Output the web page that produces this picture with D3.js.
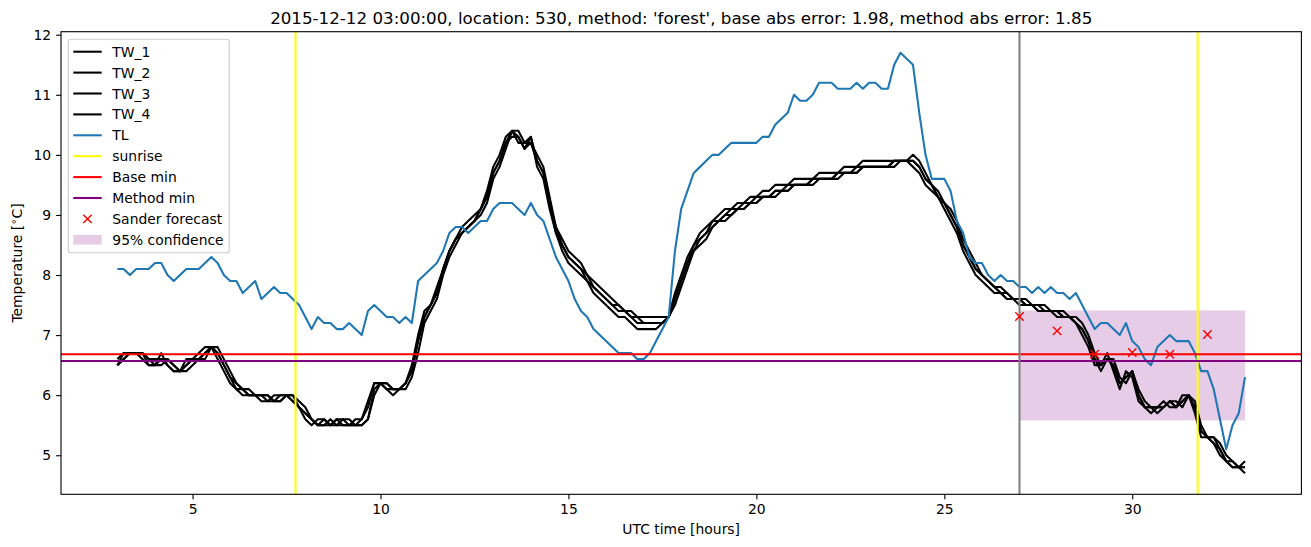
<!DOCTYPE html>
<html><head><meta charset="utf-8">
<script src="https://cdn.jsdelivr.net/npm/d3@7"></script>
<style>body{margin:0;background:#fff} text{font-family:"DejaVu Sans",sans-serif;fill:#000}</style>
</head><body><svg id="c" width="1311" height="547"></svg>
<script>
// time axis: 10-minute samples from 03:00 to 33:00 UTC
const hours = d3.range(181).map(i => 3 + i / 6);

const TL = [
8.1,8.1,8.0,8.1,8.1,8.1,
8.2,8.2,8.0,7.9,8.0,8.1,
8.1,8.1,8.2,8.3,8.2,8.0,
7.9,7.9,7.7,7.8,7.9,7.6,
7.7,7.8,7.7,7.7,7.6,7.5,
7.3,7.1,7.3,7.2,7.2,7.1,
7.1,7.2,7.1,7.0,7.4,7.5,
7.4,7.3,7.3,7.2,7.3,7.2,
7.9,8.0,8.1,8.2,8.4,8.7,
8.8,8.8,8.7,8.8,8.9,8.9,
9.1,9.2,9.2,9.2,9.1,9.0,
9.2,9.0,8.9,8.6,8.3,8.1,
7.9,7.6,7.4,7.3,7.1,7.0,
6.9,6.8,6.7,6.7,6.7,6.6,
6.6,6.7,6.9,7.1,7.3,8.4,
9.1,9.4,9.7,9.8,9.9,10.0,
10.0,10.1,10.2,10.2,10.2,10.2,
10.2,10.3,10.3,10.5,10.6,10.7,
11.0,10.9,10.9,11.0,11.2,11.2,
11.2,11.1,11.1,11.1,11.2,11.1,
11.2,11.2,11.1,11.1,11.5,11.7,
11.6,11.5,10.7,10.0,9.6,9.6,
9.6,9.4,8.9,8.7,8.3,8.2,
8.2,8.0,7.9,8.0,7.9,7.9,
7.8,7.8,7.7,7.8,7.7,7.8,
7.7,7.7,7.6,7.7,7.5,7.3,
7.1,7.2,7.2,7.1,7.0,7.2,
6.9,6.8,6.6,6.5,6.8,6.9,
7.0,6.9,6.9,6.9,6.7,6.4,
6.4,6.1,5.6,5.1,5.5,5.7,
6.3];

const TW_1 = [
6.5,6.7,6.7,6.7,6.7,6.5,
6.5,6.6,6.5,6.4,6.4,6.5,
6.6,6.6,6.7,6.8,6.7,6.5,
6.3,6.1,6.1,6.0,6.0,6.0,
5.9,5.9,6.0,6.0,6.0,5.8,
5.7,5.6,5.5,5.6,5.5,5.6,
5.6,5.5,5.5,5.6,5.8,6.2,
6.2,6.1,6.1,6.1,6.2,6.4,
6.9,7.3,7.5,7.7,8.1,8.4,
8.6,8.7,8.8,8.9,9.1,9.3,
9.7,9.9,10.2,10.4,10.3,10.1,
10.3,9.9,9.7,9.2,8.7,8.5,
8.3,8.2,8.1,7.9,7.8,7.7,
7.6,7.5,7.4,7.4,7.3,7.2,
7.2,7.2,7.2,7.2,7.3,7.6,
7.9,8.2,8.5,8.6,8.7,8.9,
8.9,9.0,9.1,9.1,9.2,9.2,
9.3,9.3,9.3,9.4,9.4,9.5,
9.5,9.5,9.5,9.6,9.6,9.6,
9.6,9.7,9.7,9.7,9.8,9.8,
9.8,9.8,9.8,9.8,9.9,9.9,
9.9,9.9,9.8,9.6,9.5,9.3,
9.2,9.0,8.8,8.5,8.3,8.1,
8.0,7.9,7.8,7.7,7.6,7.6,
7.6,7.5,7.5,7.5,7.4,7.4,
7.4,7.3,7.3,7.2,7.1,6.9,
6.6,6.5,6.6,6.5,6.2,6.3,
6.4,6.0,5.8,5.8,5.8,5.8,
5.9,5.8,5.9,6.0,5.8,5.4,
5.3,5.3,5.1,4.9,4.9,4.8,
4.8];

const TW_2 = [
6.5,6.6,6.7,6.7,6.7,6.6,
6.5,6.5,6.6,6.5,6.4,6.4,
6.5,6.6,6.6,6.8,6.8,6.6,
6.4,6.2,6.1,6.1,6.0,6.0,
6.0,5.9,5.9,6.0,6.0,5.9,
5.8,5.6,5.5,5.5,5.6,5.5,
5.6,5.6,5.5,5.5,5.6,6.0,
6.2,6.2,6.1,6.1,6.1,6.3,
6.7,7.2,7.4,7.6,8.0,8.3,
8.5,8.7,8.8,8.9,9.0,9.2,
9.6,9.8,10.1,10.4,10.4,10.2,
10.2,10.0,9.8,9.3,8.8,8.6,
8.4,8.3,8.2,8.0,7.9,7.8,
7.7,7.6,7.5,7.4,7.4,7.3,
7.3,7.3,7.3,7.3,7.3,7.5,
7.8,8.1,8.4,8.5,8.6,8.8,
8.9,8.9,9.0,9.1,9.1,9.2,
9.2,9.3,9.3,9.3,9.4,9.4,
9.5,9.5,9.5,9.5,9.6,9.6,
9.6,9.6,9.7,9.7,9.7,9.8,
9.8,9.8,9.8,9.8,9.8,9.9,
9.9,10.0,9.9,9.7,9.5,9.4,
9.2,9.1,8.9,8.6,8.4,8.2,
8.0,7.9,7.8,7.8,7.7,7.6,
7.6,7.6,7.5,7.5,7.5,7.4,
7.4,7.4,7.3,7.3,7.2,7.0,
6.7,6.5,6.6,6.6,6.3,6.2,
6.4,6.1,5.9,5.8,5.8,5.8,
5.9,5.9,5.8,6.0,5.9,5.5,
5.3,5.3,5.2,5.0,4.9,4.8,
4.9];

const TW_3 = [
6.6,6.7,6.7,6.7,6.6,6.5,
6.5,6.7,6.5,6.4,6.4,6.6,
6.6,6.7,6.8,6.8,6.6,6.4,
6.2,6.1,6.0,6.0,6.0,5.9,
5.9,6.0,6.0,6.0,5.9,5.8,
5.6,5.5,5.6,5.6,5.5,5.6,
5.5,5.5,5.6,5.6,5.9,6.2,
6.2,6.1,6.0,6.1,6.2,6.5,
7.0,7.4,7.5,7.8,8.1,8.4,
8.6,8.8,8.9,9.0,9.1,9.4,
9.8,10.0,10.3,10.4,10.2,10.2,
10.3,9.8,9.6,9.1,8.7,8.4,
8.2,8.1,8.0,7.9,7.7,7.6,
7.5,7.4,7.3,7.3,7.2,7.1,
7.1,7.1,7.1,7.2,7.3,7.7,
8.0,8.3,8.5,8.7,8.8,8.9,
9.0,9.1,9.1,9.2,9.2,9.3,
9.3,9.4,9.4,9.5,9.5,9.5,
9.6,9.6,9.6,9.6,9.7,9.7,
9.7,9.7,9.8,9.8,9.8,9.9,
9.9,9.9,9.9,9.9,9.9,9.9,
9.9,9.8,9.7,9.5,9.4,9.3,
9.1,8.9,8.7,8.4,8.2,8.0,
7.9,7.8,7.7,7.7,7.6,7.6,
7.5,7.5,7.5,7.4,7.4,7.4,
7.3,7.3,7.3,7.2,7.0,6.8,
6.5,6.5,6.7,6.4,6.1,6.4,
6.3,5.9,5.8,5.7,5.8,5.9,
5.8,5.8,6.0,6.0,5.7,5.3,
5.3,5.2,5.0,4.9,4.8,4.8,
4.7];

const TW_4 = [
6.5,6.6,6.7,6.7,6.7,6.6,
6.6,6.6,6.6,6.5,6.4,6.5,
6.6,6.6,6.7,6.8,6.7,6.5,
6.3,6.2,6.1,6.0,6.0,6.0,
6.0,5.9,5.9,6.0,5.9,5.8,
5.7,5.6,5.5,5.5,5.5,5.5,
5.5,5.5,5.5,5.5,5.6,6.1,
6.2,6.2,6.1,6.1,6.2,6.4,
6.9,7.3,7.5,7.7,8.1,8.4,
8.6,8.7,8.8,8.9,9.1,9.3,
9.7,9.9,10.2,10.3,10.3,10.1,
10.2,9.9,9.7,9.2,8.8,8.5,
8.3,8.2,8.1,8.0,7.8,7.7,
7.6,7.5,7.5,7.4,7.3,7.3,
7.2,7.2,7.2,7.2,7.3,7.6,
7.9,8.2,8.4,8.6,8.7,8.8,
8.9,9.0,9.0,9.1,9.1,9.2,
9.2,9.3,9.3,9.4,9.4,9.4,
9.5,9.5,9.5,9.6,9.6,9.6,
9.6,9.7,9.7,9.7,9.7,9.8,
9.8,9.8,9.8,9.8,9.9,9.9,
9.9,9.9,9.8,9.6,9.5,9.3,
9.2,9.0,8.8,8.5,8.3,8.1,
8.0,7.9,7.8,7.7,7.7,7.6,
7.6,7.5,7.5,7.4,7.4,7.4,
7.4,7.3,7.3,7.2,7.1,6.9,
6.6,6.4,6.6,6.5,6.2,6.3,
6.4,6.0,5.8,5.8,5.7,5.8,
5.9,5.8,5.9,6.0,5.8,5.4,
5.3,5.2,5.1,4.9,4.8,4.8,
4.8];

const sunriseHours = [7.74, 31.74];
const forecastHour = 27.0;
const baseMin = 6.68;
const methodMin = 6.57;
const sanderHours = [27, 28, 29, 30, 31, 32];
const sanderValues = [7.31, 7.07, 6.68, 6.71, 6.68, 7.01];
const confHours = [27, 33];
const confRange = [5.58, 7.41];
const xTicks = [5, 10, 15, 20, 25, 30];
const yTicks = [5, 6, 7, 8, 9, 10, 11, 12];
const titleText = "2015-12-12 03:00:00, location: 530, method: 'forest', base abs error: 1.98, method abs error: 1.85";

const svg = d3.select("#c");
const L = 61, R = 1301.4, T = 31.7, B = 494.3;
const x = d3.scaleLinear().domain([1.5, 34.5]).range([L, R]);
const y = d3.scaleLinear().domain([4.35, 12.05]).range([B, T]);
const FS = 13.9;

svg.append("defs").append("clipPath").attr("id", "clip")
  .append("rect").attr("x", L).attr("y", T).attr("width", R - L).attr("height", B - T);
const g = svg.append("g").attr("clip-path", "url(#clip)");

// confidence band
g.append("rect")
  .attr("x", x(confHours[0])).attr("width", x(confHours[1]) - x(confHours[0]))
  .attr("y", y(confRange[1])).attr("height", y(confRange[0]) - y(confRange[1]))
  .attr("fill", "purple").attr("fill-opacity", 0.2);

const line = d3.line().x((d, i) => x(hours[i])).y(d => y(d));
[TW_1, TW_2, TW_3, TW_4].forEach(s => {
  g.append("path").datum(s).attr("d", line).attr("fill", "none")
    .attr("stroke", "#000").attr("stroke-width", 2.08).attr("stroke-linejoin", "round");
});
g.append("path").datum(TL).attr("d", line).attr("fill", "none")
  .attr("stroke", "#1f77b4").attr("stroke-width", 2.08).attr("stroke-linejoin", "round");

sunriseHours.forEach(h => {
  g.append("line").attr("x1", x(h)).attr("x2", x(h)).attr("y1", T).attr("y2", B)
    .attr("stroke", "#ffff00").attr("stroke-width", 2.08);
});
g.append("line").attr("x1", L).attr("x2", R).attr("y1", y(baseMin)).attr("y2", y(baseMin))
  .attr("stroke", "#ff0000").attr("stroke-width", 2.08);
g.append("line").attr("x1", L).attr("x2", R).attr("y1", y(methodMin)).attr("y2", y(methodMin))
  .attr("stroke", "#800080").attr("stroke-width", 2.08);
g.append("line").attr("x1", x(forecastHour)).attr("x2", x(forecastHour)).attr("y1", T).attr("y2", B)
  .attr("stroke", "#808080").attr("stroke-width", 2.08);

const mk = 4.2;
function xMark(sel, cx, cy) {
  sel.append("path").attr("d", `M${cx-mk},${cy-mk}L${cx+mk},${cy+mk}M${cx-mk},${cy+mk}L${cx+mk},${cy-mk}`)
    .attr("stroke", "#ff0000").attr("stroke-width", 1.4).attr("fill", "none");
}
sanderHours.forEach((h, i) => xMark(g, x(h), y(sanderValues[i])));

// axes
const xa = svg.append("g").attr("transform", `translate(0,${B})`)
  .call(d3.axisBottom(x).tickValues(xTicks).tickSize(4.9).tickPadding(4.9).tickFormat(d3.format("d")));
const ya = svg.append("g").attr("transform", `translate(${L},0)`)
  .call(d3.axisLeft(y).tickValues(yTicks).tickSize(4.9).tickPadding(4.9).tickFormat(d3.format("d")));
[xa, ya].forEach(a => {
  a.select(".domain").remove();
  a.selectAll("line").attr("stroke", "#000").attr("stroke-width", 1.1);
  a.selectAll("text").attr("font-size", FS).attr("font-family", "DejaVu Sans").attr("fill", "#000");
});
svg.append("rect").attr("x", L).attr("y", T).attr("width", R - L).attr("height", B - T)
  .attr("fill", "none").attr("stroke", "#000").attr("stroke-width", 1.1);

// labels
svg.append("text").attr("x", (L + R) / 2).attr("y", 23.5).attr("text-anchor", "middle")
  .attr("font-size", 16.7).text(titleText);
svg.append("text").attr("x", (L + R) / 2).attr("y", 534).attr("text-anchor", "middle")
  .attr("font-size", FS).text("UTC time [hours]");
const yl = svg.append("text").attr("transform", `translate(22,${(T + B) / 2}) rotate(-90)`)
  .attr("text-anchor", "middle").attr("font-size", FS);
yl.append("tspan").text("Temperature [");
yl.append("tspan").attr("dy", -5).attr("font-size", 10).text("\u2218");
yl.append("tspan").attr("dy", 5).text("C]");

// legend
const lg = svg.append("g");
lg.append("rect").attr("x", 68.3).attr("y", 39.3).attr("width", 161).attr("height", 213.4)
  .attr("rx", 2.8).attr("fill", "#fff").attr("fill-opacity", 0.8).attr("stroke", "#cccccc").attr("stroke-width", 1.1);
const items = [
  {label: "TW_1", type: "line", color: "#000"},
  {label: "TW_2", type: "line", color: "#000"},
  {label: "TW_3", type: "line", color: "#000"},
  {label: "TW_4", type: "line", color: "#000"},
  {label: "TL", type: "line", color: "#1f77b4"},
  {label: "sunrise", type: "line", color: "#ffff00"},
  {label: "Base min", type: "line", color: "#ff0000"},
  {label: "Method min", type: "line", color: "#800080"},
  {label: "Sander forecast", type: "marker", color: "#ff0000"},
  {label: "95% confidence", type: "patch", color: "purple"}
];
items.forEach((it, i) => {
  const cy = 51.7 + i * 20.9;
  if (it.type === "line") {
    lg.append("line").attr("x1", 73.3).attr("x2", 101.7).attr("y1", cy).attr("y2", cy)
      .attr("stroke", it.color).attr("stroke-width", 2.08);
  } else if (it.type === "marker") {
    xMark(lg, 87.5, cy);
  } else {
    lg.append("rect").attr("x", 73.3).attr("y", cy - 4.9).attr("width", 28.4).attr("height", 9.7)
      .attr("fill", it.color).attr("fill-opacity", 0.2);
  }
  lg.append("text").attr("x", 112.3).attr("y", cy).attr("dy", "0.36em")
    .attr("font-size", FS).text(it.label);
});
</script></body></html>
